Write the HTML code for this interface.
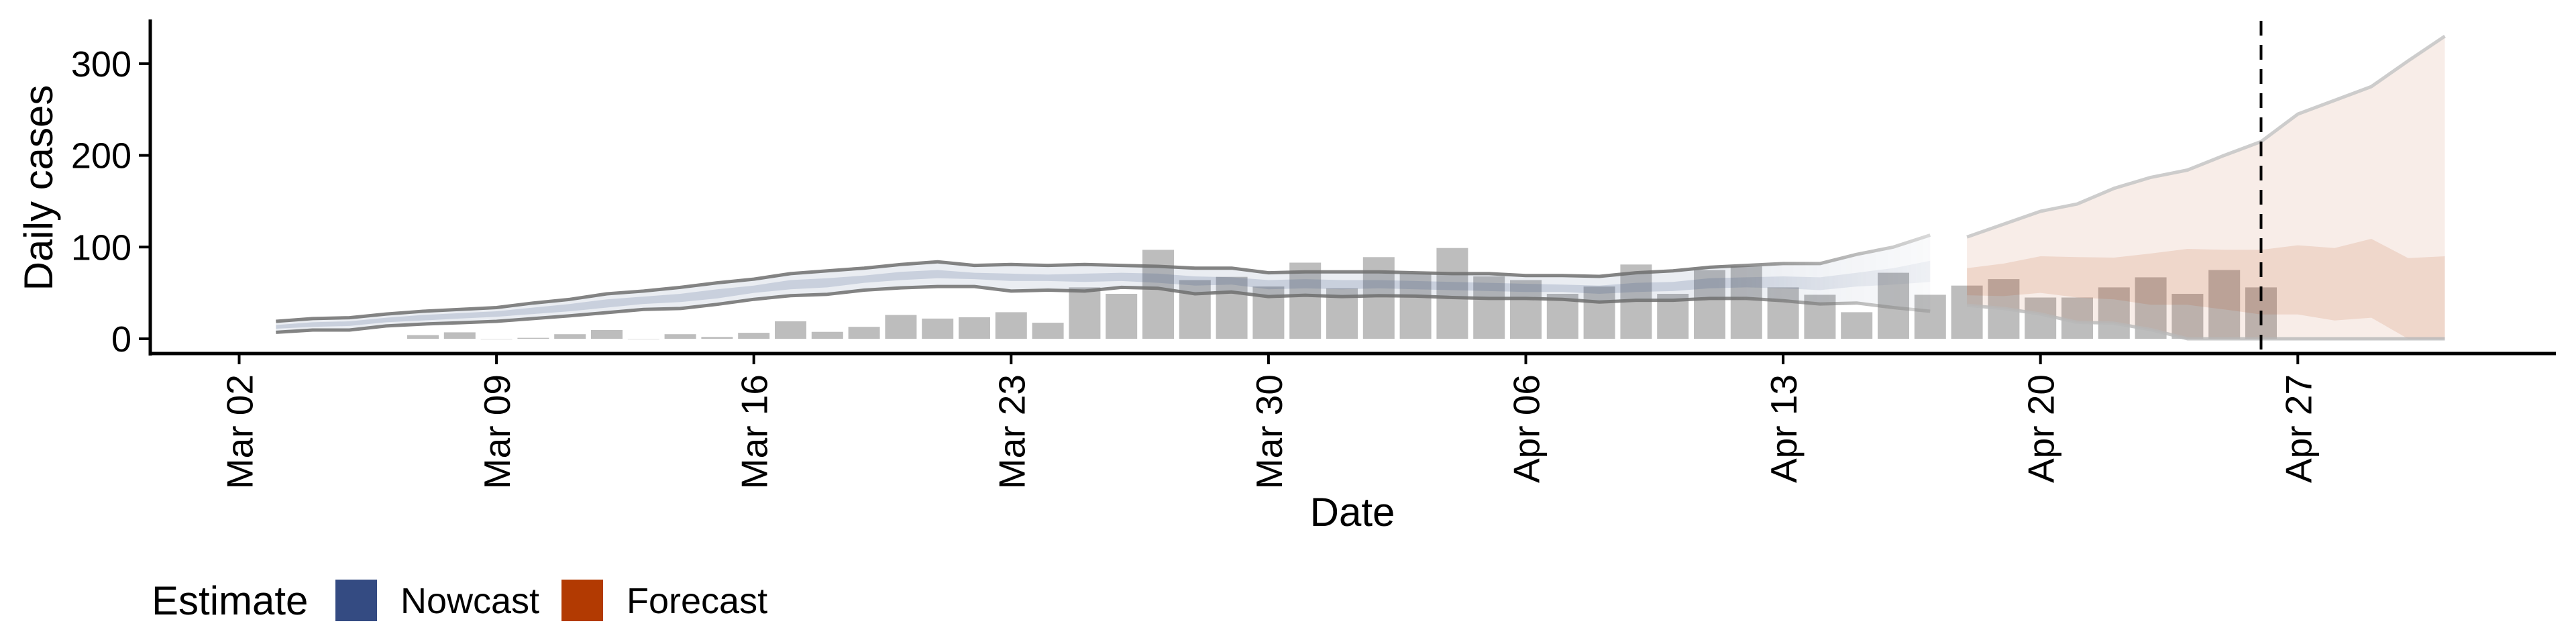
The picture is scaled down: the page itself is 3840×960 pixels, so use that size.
<!DOCTYPE html>
<html><head><meta charset="utf-8">
<style>
html,body{margin:0;padding:0;background:#fff;}
svg{display:block;font-family:"Liberation Sans",Arial,sans-serif;}
</style></head>
<body>
<svg id="chart" width="3840" height="960" viewBox="0 0 3840 960" xmlns="http://www.w3.org/2000/svg">
<defs>
<linearGradient id="fadeGrad" gradientUnits="userSpaceOnUse" x1="2560" y1="0" x2="2880" y2="0">
<stop offset="0" stop-color="#fff" stop-opacity="1"/>
<stop offset="1" stop-color="#fff" stop-opacity="0.3"/>
</linearGradient>
<mask id="fadeMask" maskUnits="userSpaceOnUse" x="0" y="0" width="3840" height="960">
<rect x="0" y="0" width="3840" height="960" fill="url(#fadeGrad)"/>
</mask>
</defs>
<g id="bars"></g>
<g id="nowcast" mask="url(#fadeMask)"></g>
<g id="forecast"></g>
<g id="axes"></g>
<text x="0" y="0" font-size="60" text-anchor="middle" transform="translate(78,280) rotate(-90)">Daily cases</text>
<text x="2016" y="784" font-size="60" text-anchor="middle">Date</text>
<g>
<text x="226" y="916" font-size="60">Estimate</text>
<rect x="500" y="864" width="62" height="62" fill="#344b82"/>
<text x="597" y="914" font-size="54">Nowcast</text>
<rect x="837" y="864" width="62" height="62" fill="#b23a02"/>
<text x="934" y="914" font-size="54">Forecast</text>
</g>
</svg>
<script>
// ---- data ----
const barDays = [5,6,7,8,9,10,11,12,13,14,15,16,17,18,19,20,21,22,23,24,25,26,27,28,29,30,31,32,33,34,35,36,37,38,39,40,41,42,43,44,45,46,47,48,49,50,51,52,53,54,55];
const barValues = [4,7,0,1,5,9.5,0,5,2,6.5,19,7.5,13,26,22,23.5,29,17.5,56,49,97,64,67.5,57,83,55,89,71.5,99,68,64,49,57,81,49,75,79,56,48,29,72,48,58,65,45,45,56,67,49,75,56];
const nowDays = [1,2,3,4,5,6,7,8,9,10,11,12,13,14,15,16,17,18,19,20,21,22,23,24,25,26,27,28,29,30,31,32,33,34,35,36,37,38,39,40,41,42,43,44,45,46];
const nowUpper = [19,22,23,27,30,32,34,39,43,49,52,56,61,65,71,74,77,81,84,80,81,80,81,80,79,77,77,72,73,73,73,72,71,71,69,69,68,72,74,78,80,82,82,92,100,113];
const nowLower = [7,9.5,9.5,14,16,17.5,19,22,25,28.5,32,33,37.5,43,47,48.5,53,55.5,57,57,52,53,52,56,55,49,51,46,47.5,46,47,46.5,45,44,44,43,40,42,42,44,44,41.5,38,39,34,30];
const nowMidUpper = [15,18,19,23,26,28,30,34,38,43,46,49,54,58,64,66,69,73,75,72,71,70,71,72,71,68,67,64,65,64,64,63,62,61,60,59,58,61,62,66,67,68,67,72,77,85];
const nowMidLower = [11,13,14,18,20,22,24,27,30,34,38,40,44,50,54,56,61,64,66,65,63,63,62,63,61,58,59,54,55,54,55,54,53,52,51,51,49,51,52,55,56,55,53,57,59,62];
const fcDays = [47,48,49,50,51,52,53,54,55,56,57,58,59,60];
const fcUpper = [111,125,139,147,164,176,184,200,215,245,260,275,303,330];
const fcLower = [36.5,33,27,18,17,10,0,0,0,0,0,0,0,0];
const fcMidUpper = [77,82,90,89,88.5,93,98,97,97,102,99,109,88,90];
const fcMidLower = [47.5,46.5,50,45,43,37,37,32,26.5,26.5,20,23,0,0];
const yTicks = [0,100,200,300];
const xTickDays = [0,7,14,21,28,35,42,49,56];
const xTickLabels = ["Mar 02","Mar 09","Mar 16","Mar 23","Mar 30","Apr 06","Apr 13","Apr 20","Apr 27"];
const forecastDateDay = 55;

// ---- scales ----
const X0 = 356.5, DX = 54.8, Y0 = 505, KY = 1.367;
function x(d){ return X0 + DX*d; }
function y(v){ return Y0 - KY*v; }
const NS = "http://www.w3.org/2000/svg";
function mk(tag, attrs, parent){
  const e = document.createElementNS(NS, tag);
  for (const k in attrs) e.setAttribute(k, attrs[k]);
  parent.appendChild(e);
  return e;
}
function bandPath(days, lo, hi){
  let d = "";
  days.forEach((t,i)=>{ d += (i?"L":"M") + x(t).toFixed(1) + "," + y(hi[i]).toFixed(1); });
  for (let i = days.length-1; i >= 0; i--) d += "L" + x(days[i]).toFixed(1) + "," + y(lo[i]).toFixed(1);
  return d + "Z";
}
function linePath(days, v){
  let d = "";
  days.forEach((t,i)=>{ d += (i?"L":"M") + x(t).toFixed(1) + "," + y(v[i]).toFixed(1); });
  return d;
}

// bars
const gBars = document.getElementById("bars");
const bw = 47;
barDays.forEach((d,i)=>{
  const v = barValues[i];
  const r = mk("rect", {x:(x(d)-bw/2).toFixed(1), y:y(v).toFixed(1), width:bw, height:Math.max(KY*v,0.5).toFixed(1), fill:"#bdbdbd"}, gBars);
  
  
});

// nowcast
const gNow = document.getElementById("nowcast");
let p = mk("path", {d:bandPath(nowDays, nowLower, nowUpper), fill:"#344b82", "fill-opacity":"0.1"}, gNow);


p = mk("path", {d:bandPath(nowDays, nowMidLower, nowMidUpper), fill:"#344b82", "fill-opacity":"0.18"}, gNow);


p = mk("path", {d:linePath(nowDays, nowUpper), fill:"none", stroke:"#6e6e6e", "stroke-width":"5", "stroke-opacity":"0.85", "stroke-linejoin":"round"}, gNow);


p = mk("path", {d:linePath(nowDays, nowLower), fill:"none", stroke:"#6e6e6e", "stroke-width":"5", "stroke-opacity":"0.85", "stroke-linejoin":"round"}, gNow);



// forecast
const gFc = document.getElementById("forecast");
p = mk("path", {d:bandPath(fcDays, fcLower, fcUpper), fill:"#b23a02", "fill-opacity":"0.09"}, gFc);


p = mk("path", {d:bandPath(fcDays, fcMidLower, fcMidUpper), fill:"#b23a02", "fill-opacity":"0.12"}, gFc);


p = mk("path", {d:linePath(fcDays, fcUpper), fill:"none", stroke:"#c8c8c8", "stroke-width":"5", "stroke-opacity":"0.9", "stroke-linejoin":"round"}, gFc);


p = mk("path", {d:linePath(fcDays, fcLower), fill:"none", stroke:"#b8b8b8", "stroke-width":"5", "stroke-opacity":"0.8", "stroke-linejoin":"round"}, gFc);



// axes
const gAx = document.getElementById("axes");
p = mk("line", {x1:x(forecastDateDay), x2:x(forecastDateDay), y1:31, y2:527, stroke:"#000", "stroke-width":"4", "stroke-dasharray":"22,14"}, gAx);


p = mk("line", {x1:224, x2:224, y1:29, y2:530, stroke:"#000", "stroke-width":"5"}, gAx);


p = mk("line", {x1:222, x2:3810, y1:527, y2:527, stroke:"#000", "stroke-width":"5"}, gAx);


yTicks.forEach(v=>{
  let t = mk("line", {x1:207, x2:224, y1:y(v), y2:y(v), stroke:"#000", "stroke-width":"4"}, gAx);
  
  
  t = mk("text", {x:196, y:(y(v)+19).toFixed(1), "font-size":"54", "text-anchor":"end", fill:"#000"}, gAx);
  t.textContent = String(v);
  
  
});
xTickDays.forEach((d,i)=>{
  let t = mk("line", {x1:x(d), x2:x(d), y1:527, y2:543, stroke:"#000", "stroke-width":"4"}, gAx);
  
  
  t = mk("text", {x:0, y:0, "font-size":"55", "text-anchor":"end", fill:"#000", transform:"translate("+(x(d)+20).toFixed(1)+",558) rotate(-90)"}, gAx);
  t.textContent = xTickLabels[i];
  
  
});
</script>
</body></html>
